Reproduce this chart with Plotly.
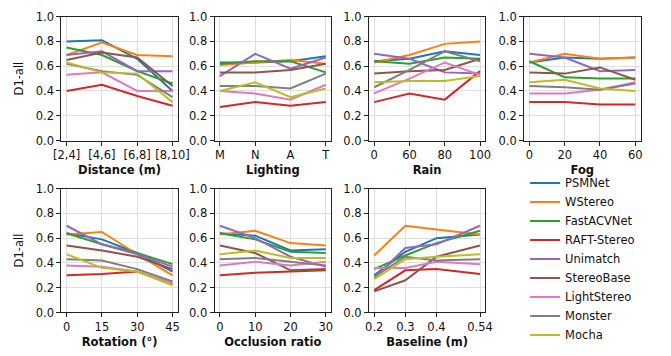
import plotly.graph_objects as go

models = ["PSMNet", "WStereo", "FastACVNet", "RAFT-Stereo", "Unimatch",
          "StereoBase", "LightStereo", "Monster", "Mocha"]
colors = ["#1f77b4", "#ff7f0e", "#2ca02c", "#d62728", "#9467bd",
          "#8c564b", "#e377c2", "#7f7f7f", "#bcbd22"]

distance_x = ["[2,4]", "[4,6]", "[6,8]", "[8,10]"]
distance_values = {
    "PSMNet": [0.80, 0.81, 0.66, 0.40],
    "WStereo": [0.69, 0.79, 0.69, 0.68],
    "FastACVNet": [0.75, 0.69, 0.56, 0.46],
    "RAFT-Stereo": [0.40, 0.45, 0.36, 0.28],
    "Unimatch": [0.69, 0.72, 0.56, 0.56],
    "StereoBase": [0.65, 0.71, 0.67, 0.44],
    "LightStereo": [0.53, 0.55, 0.40, 0.40],
    "Monster": [0.62, 0.56, 0.53, 0.35],
    "Mocha": [0.63, 0.55, 0.54, 0.31],
}

lighting_x = ["M", "N", "A", "T"]
lighting_values = {
    "PSMNet": [0.63, 0.63, 0.64, 0.68],
    "WStereo": [0.61, 0.63, 0.65, 0.62],
    "FastACVNet": [0.62, 0.64, 0.64, 0.55],
    "RAFT-Stereo": [0.27, 0.31, 0.28, 0.31],
    "Unimatch": [0.52, 0.70, 0.58, 0.67],
    "StereoBase": [0.55, 0.55, 0.57, 0.62],
    "LightStereo": [0.40, 0.38, 0.33, 0.45],
    "Monster": [0.44, 0.44, 0.42, 0.54],
    "Mocha": [0.40, 0.47, 0.35, 0.42],
}

rain_x = ["0", "60", "80", "100"]
rain_values = {
    "PSMNet": [0.64, 0.66, 0.72, 0.69],
    "WStereo": [0.63, 0.69, 0.78, 0.80],
    "FastACVNet": [0.64, 0.62, 0.67, 0.66],
    "RAFT-Stereo": [0.31, 0.38, 0.33, 0.56],
    "Unimatch": [0.70, 0.66, 0.55, 0.54],
    "StereoBase": [0.54, 0.56, 0.57, 0.66],
    "LightStereo": [0.38, 0.50, 0.63, 0.53],
    "Monster": [0.43, 0.57, 0.72, 0.64],
    "Mocha": [0.47, 0.48, 0.48, 0.52],
}

fog_x = [0, 20, 40, 60]
fog_values = {
    "PSMNet": [0.63, 0.67, 0.66, 0.67],
    "WStereo": [0.63, 0.70, 0.66, 0.67],
    "FastACVNet": [0.64, 0.51, 0.50, 0.50],
    "RAFT-Stereo": [0.31, 0.31, 0.29, 0.29],
    "Unimatch": [0.70, 0.67, 0.56, 0.57],
    "StereoBase": [0.55, 0.54, 0.59, 0.49],
    "LightStereo": [0.38, 0.38, 0.41, 0.47],
    "Monster": [0.44, 0.43, 0.41, 0.46],
    "Mocha": [0.47, 0.49, 0.42, 0.40],
}

rotation_x = [0, 15, 30, 45]
rotation_values = {
    "PSMNet": [0.64, 0.59, 0.48, 0.33],
    "WStereo": [0.63, 0.65, 0.47, 0.30],
    "FastACVNet": [0.64, 0.55, 0.48, 0.39],
    "RAFT-Stereo": [0.30, 0.31, 0.33, 0.23],
    "Unimatch": [0.70, 0.55, 0.47, 0.37],
    "StereoBase": [0.54, 0.50, 0.45, 0.35],
    "LightStereo": [0.38, 0.37, 0.33, 0.23],
    "Monster": [0.43, 0.42, 0.35, 0.25],
    "Mocha": [0.47, 0.36, 0.33, 0.22],
}

occlusion_x = [0, 10, 20, 30]
occlusion_values = {
    "PSMNet": [0.64, 0.62, 0.50, 0.51],
    "WStereo": [0.63, 0.66, 0.56, 0.54],
    "FastACVNet": [0.64, 0.59, 0.49, 0.48],
    "RAFT-Stereo": [0.30, 0.32, 0.33, 0.34],
    "Unimatch": [0.70, 0.60, 0.45, 0.37],
    "StereoBase": [0.54, 0.48, 0.34, 0.35],
    "LightStereo": [0.38, 0.41, 0.38, 0.41],
    "Monster": [0.43, 0.44, 0.41, 0.38],
    "Mocha": [0.47, 0.50, 0.44, 0.44],
}

baseline_x = [0.2, 0.3, 0.4, 0.54]
baseline_ticktext = ["0.2", "0.3", "0.4", "0.54"]
baseline_values = {
    "PSMNet": [0.30, 0.49, 0.60, 0.63],
    "WStereo": [0.46, 0.70, 0.67, 0.63],
    "FastACVNet": [0.35, 0.46, 0.56, 0.66],
    "RAFT-Stereo": [0.18, 0.34, 0.35, 0.31],
    "Unimatch": [0.28, 0.52, 0.55, 0.70],
    "StereoBase": [0.17, 0.26, 0.45, 0.54],
    "LightStereo": [0.36, 0.36, 0.41, 0.39],
    "Monster": [0.29, 0.45, 0.42, 0.43],
    "Mocha": [0.27, 0.43, 0.45, 0.47],
}

y_ticks = [0.0, 0.2, 0.4, 0.6, 0.8, 1.0]

panels = [
    ("Distance (m)", distance_x, distance_values, "category", None),
    ("Lighting", lighting_x, lighting_values, "category", None),
    ("Rain", rain_x, rain_values, "category", None),
    ("Fog", fog_x, fog_values, "linear", None),
    ("Rotation (°)", rotation_x, rotation_values, "linear", None),
    ("Occlusion ratio", occlusion_x, occlusion_values, "linear", None),
    ("Baseline (m)", baseline_x, baseline_values, "linear", baseline_ticktext),
]

W, H = 671, 356
FONT = "DejaVu Sans"
FS = 11.5
col_left = [55, 213, 372, 532]
panel_w = 120
row_top = [10, 189]
panel_h = 129

fig = go.Figure()
layout = {}
for i, (title, xs, vals, kind, ticktext) in enumerate(panels):
    n = i + 1
    r, c = (0, i) if i < 4 else (1, i - 4)
    xa = "x" if n == 1 else f"x{n}"
    ya = "y" if n == 1 else f"y{n}"
    for m, col in zip(models, colors):
        fig.add_trace(go.Scatter(
            x=xs, y=vals[m], mode="lines", name=m,
            line=dict(color=col, width=2),
            xaxis=xa, yaxis=ya, showlegend=(n == 1), legendgroup=m))
    x0 = col_left[c] / W
    x1 = (col_left[c] + panel_w) / W
    y1 = 1 - row_top[r] / H
    y0 = 1 - (row_top[r] + panel_h) / H
    common = dict(showline=True, linecolor="#222", linewidth=1, mirror=True,
                  showgrid=True, gridcolor="#dedede", gridwidth=1,
                  ticks="outside", ticklen=4, tickcolor="#222", tickwidth=1,
                  tickfont=dict(family=FONT, size=FS, color="#111"),
                  zeroline=False, fixedrange=True)
    if kind == "category":
        xr = [-0.15, len(xs) - 1 + 0.15]
        xaxis = dict(type="category", range=xr, **common)
    else:
        span = xs[-1] - xs[0]
        xr = [xs[0] - 0.05 * span, xs[-1] + 0.05 * span]
        xaxis = dict(type="linear", range=xr, tickvals=xs,
                     ticktext=ticktext if ticktext else [str(v) for v in xs],
                     **common)
    xaxis.update(domain=[x0, x1], anchor=ya,
                 title=dict(text=title, standoff=4,
                            font=dict(family=FONT, size=FS, color="#111", weight="bold")))
    yaxis = dict(domain=[y0, y1], anchor=xa, range=[0, 1], tickvals=y_ticks,
                 tickformat=".1f", **common)
    if c == 0:
        yaxis["title"] = dict(text="D1-all", standoff=9,
                              font=dict(family=FONT, size=FS, color="#111"))
    layout["xaxis" if n == 1 else f"xaxis{n}"] = xaxis
    layout["yaxis" if n == 1 else f"yaxis{n}"] = yaxis

fig.update_layout(**layout)
fig.update_layout(
    width=W, height=H, margin=dict(l=0, r=0, t=0, b=0),
    paper_bgcolor="white", plot_bgcolor="white",
    font=dict(family=FONT, size=FS, color="#111"),
    legend=dict(x=533 / W, y=1 - 168 / H, xanchor="left", yanchor="top",
                font=dict(family=FONT, size=FS, color="#111"),
                bgcolor="rgba(0,0,0,0)", borderwidth=0, itemwidth=30,
                tracegroupgap=0),
)
fig.write_html("out.html", config={"displayModeBar": False},
               post_script="document.body.style.margin='0';document.body.style.overflow='hidden';")
